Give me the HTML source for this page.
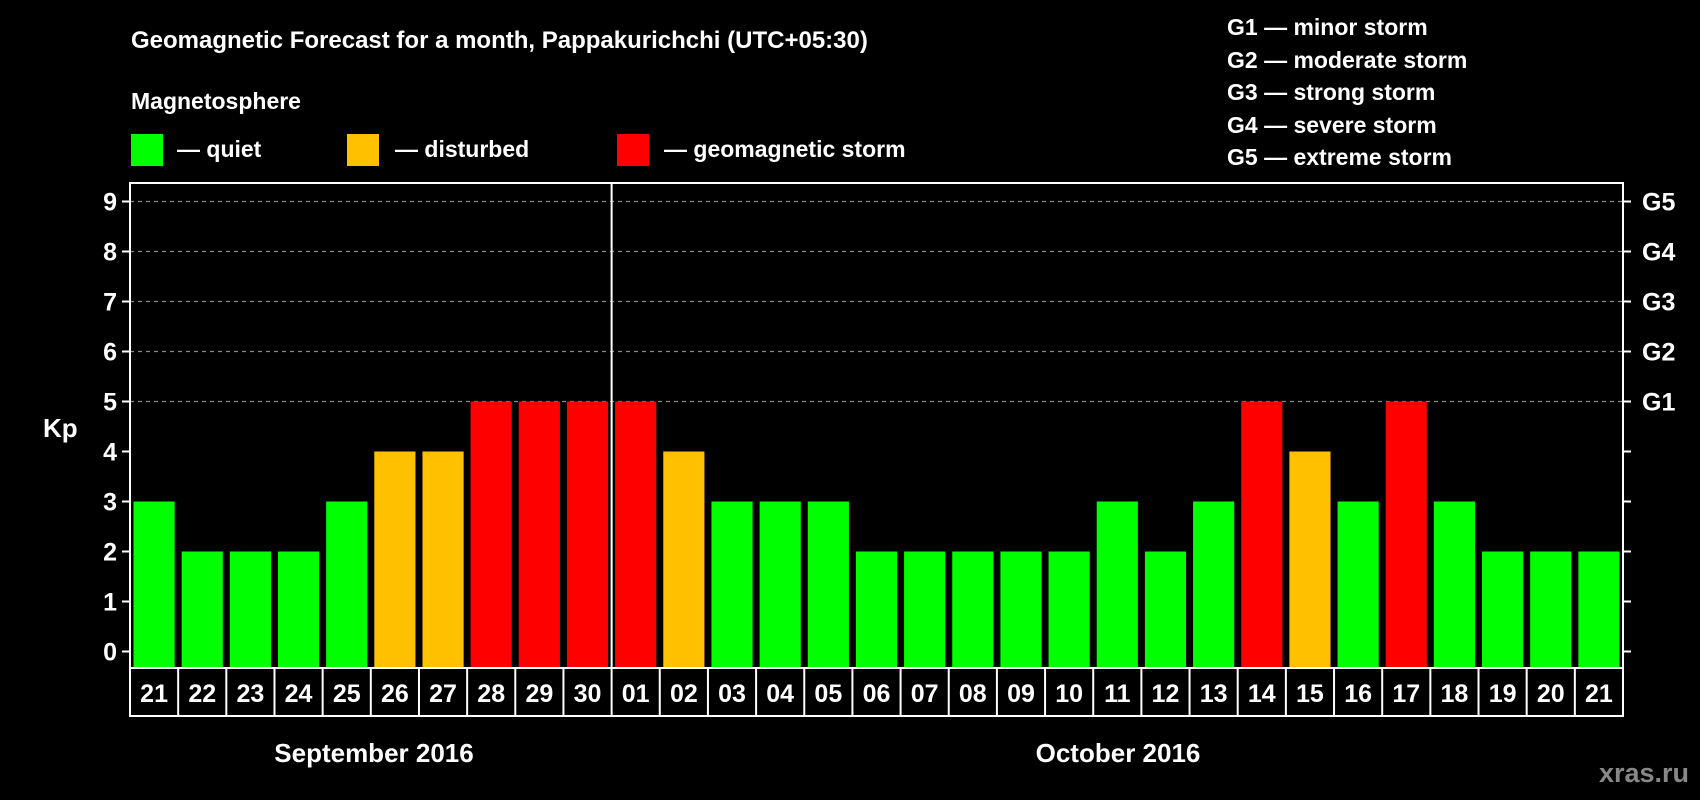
<!DOCTYPE html>
<html><head><meta charset="utf-8"><style>
html,body{margin:0;padding:0;background:#000;}
svg{display:block;font-family:"Liberation Sans",Arial,sans-serif;font-weight:bold;}
</style></head><body>
<svg id="chart" width="1700" height="800" viewBox="0 0 1700 800">
<rect x="0" y="0" width="1700" height="800" fill="#000"/>
<text x="131" y="48" fill="#fff" font-size="24">Geomagnetic Forecast for a month, Pappakurichchi (UTC+05:30)</text>
<text x="131" y="109" fill="#fff" font-size="23">Magnetosphere</text>
<g>
<rect x="131" y="134" width="32" height="32" fill="#00ff00"/>
<text x="177" y="157" fill="#fff" font-size="23">— quiet</text></g>
<g>
<rect x="347" y="134" width="32" height="32" fill="#ffc000"/>
<text x="395" y="157" fill="#fff" font-size="23">— disturbed</text></g>
<g>
<rect x="617" y="134" width="32" height="32" fill="#ff0000"/>
<text x="664" y="157" fill="#fff" font-size="23">— geomagnetic storm</text></g>
<g fill="#fff" font-size="23">
<text x="1227" y="35">G1 — minor storm</text>
<text x="1227" y="68">G2 — moderate storm</text>
<text x="1227" y="100">G3 — strong storm</text>
<text x="1227" y="133">G4 — severe storm</text>
<text x="1227" y="165">G5 — extreme storm</text>
</g>
<text x="43" y="437" fill="#fff" font-size="26">Kp</text>
<g id="grid"></g><g id="bars"></g><g id="axes"></g>
<text x="374" y="762" fill="#fff" font-size="26" text-anchor="middle">September 2016</text>
<text x="1118" y="762" fill="#fff" font-size="26" text-anchor="middle">October 2016</text>
<text x="1689" y="782" fill="#888" font-size="27" text-anchor="end">xras.ru</text>
</svg>
<script>
const days = ["21","22","23","24","25","26","27","28","29","30","01","02","03","04","05","06","07","08","09","10","11","12","13","14","15","16","17","18","19","20","21"];
const kpValues = [3,2,2,2,3,4,4,5,5,5,5,4,3,3,3,2,2,2,2,2,3,2,3,5,4,3,5,3,2,2,2];
const yTicks = [0,1,2,3,4,5,6,7,8,9];
const gLabels = ["","","","","","G1","G2","G3","G4","G5"];

const NS="http://www.w3.org/2000/svg";
const L=130,R=1623,T=183,B=668,LB=716;
const n=days.length, bw=(R-L)/n;
const y=v=>651.5-v*50;
const x=i=>L+i*bw;
function mk(tag,attrs,parent){const e=document.createElementNS(NS,tag);for(const k in attrs)e.setAttribute(k,attrs[k]);parent.appendChild(e);return e;}
const grid=document.getElementById('grid'),bars=document.getElementById('bars'),axes=document.getElementById('axes');
function col(v){return v>=5?"#ff0000":(v>=4?"#ffc000":"#00ff00");}

yTicks.forEach((t,i)=>{
  if(t>=5){const g=mk('line',{x1:L,x2:R,y1:y(t),y2:y(t),stroke:"#888","stroke-width":1.2,"stroke-dasharray":"4,4"},grid);
  
  }
  const tl=mk('line',{x1:L-8,x2:L,y1:y(t),y2:y(t),stroke:"#fff","stroke-width":2},axes);
  
  
  const tr=mk('line',{x1:R,x2:R+8,y1:y(t),y2:y(t),stroke:"#fff","stroke-width":2},axes);
  
  
  const lb=mk('text',{x:117,y:y(t)+9,fill:"#fff","font-size":25,"text-anchor":"end"},axes);
  lb.textContent=t;
  
  
  if(gLabels[i]){const gl=mk('text',{x:1642,y:y(t)+9,fill:"#fff","font-size":25},axes);
  gl.textContent=gLabels[i];
  
  }
});

kpValues.forEach((v,i)=>{
  const r=mk('rect',{x:x(i)+3.5,y:y(v),width:bw-7,height:B-y(v),fill:col(v)},bars);
  
  
});

const frame=mk('rect',{x:L,y:T,width:R-L,height:LB-T,fill:"none",stroke:"#fff","stroke-width":2},axes);


const bl=mk('line',{x1:L,x2:R,y1:B,y2:B,stroke:"#fff","stroke-width":2},axes);


const dv=mk('line',{x1:x(10),x2:x(10),y1:T,y2:B,stroke:"#fff","stroke-width":2},axes);


days.forEach((d,i)=>{
  if(i>0){const s=mk('line',{x1:x(i),x2:x(i),y1:B,y2:LB,stroke:"#fff","stroke-width":2},axes);
  
  }
  const t=mk('text',{x:x(i)+bw/2,y:702,fill:"#fff","font-size":25,"text-anchor":"middle"},axes);
  t.textContent=d;
  
  
});
</script>
</body></html>
